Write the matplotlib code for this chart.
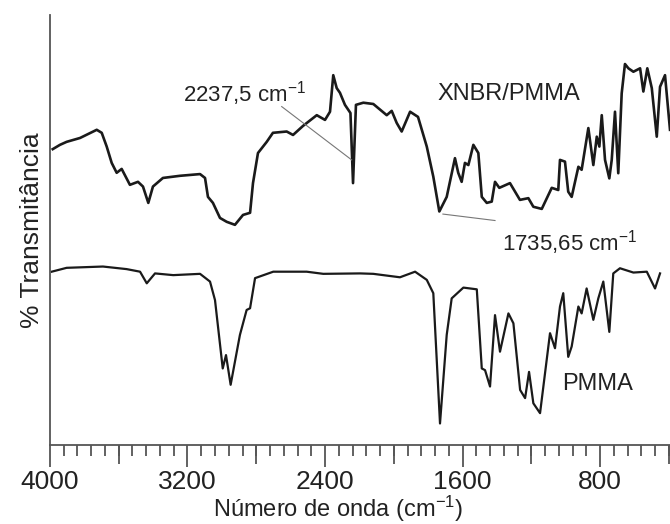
import matplotlib
matplotlib.use("Agg")
import matplotlib.pyplot as plt
from matplotlib.ticker import MultipleLocator, NullFormatter

plt.rcParams['font.family'] = ['Liberation Sans', 'DejaVu Sans']
plt.rcParams['mathtext.fontset'] = 'custom'
plt.rcParams['mathtext.rm'] = 'Liberation Sans'
plt.rcParams['mathtext.it'] = 'Liberation Sans'

# XNBR/PMMA spectrum (wavenumber cm-1, transmittance a.u.)
wn_blend = [3984, 3942, 3903, 3825, 3728, 3699, 3670, 3641, 3612, 3583,
            3535, 3488, 3459, 3428, 3401, 3343, 3244, 3127, 3098, 3081,
            3052, 3011, 2972, 2924, 2877, 2836, 2819, 2790, 2739, 2703,
            2623, 2586, 2528, 2448, 2400, 2371, 2352, 2332, 2313, 2284,
            2252, 2237, 2220, 2177, 2119, 2041, 2012, 1983, 1954, 1905,
            1859, 1808, 1770, 1735, 1692, 1644, 1625, 1605, 1586, 1566,
            1537, 1508, 1488, 1459, 1430, 1411, 1386, 1324, 1266, 1217,
            1188, 1139, 1081, 1043, 1033, 1004, 985, 965, 926, 907,
            868, 839, 819, 804, 790, 771, 746, 732, 713, 694,
            674, 655, 635, 606, 567, 548, 525, 499, 470, 451,
            422, 393]
t_blend = [68.8, 69.8, 70.5, 71.4, 73.3, 72.6, 69.4, 65.6, 63.3, 64.2,
           60.5, 61.2, 60.1, 56.3, 60.1, 62.1, 62.6, 63.0, 62.1, 57.7,
           56.3, 52.8, 51.9, 51.2, 53.5, 54.0, 60.9, 67.9, 70.5, 72.6,
           72.9, 72.1, 74.2, 76.7, 75.6, 77.5, 86.0, 83.0, 81.9, 79.1,
           77.2, 60.9, 79.1, 79.6, 79.3, 76.7, 77.7, 74.9, 72.9, 77.5,
           76.3, 69.4, 62.4, 54.3, 57.7, 66.7, 63.3, 61.2, 65.6, 65.1,
           69.8, 67.9, 57.7, 56.3, 56.6, 61.2, 59.8, 60.9, 57.0, 57.4,
           55.4, 54.9, 59.8, 59.3, 66.3, 65.9, 58.9, 57.7, 64.7, 64.0,
           73.7, 65.1, 71.7, 69.4, 76.7, 66.3, 62.0, 66.3, 77.5, 63.2,
           81.8, 88.6, 87.6, 86.8, 87.6, 82.2, 87.6, 83.0, 71.7, 83.3,
           86.0, 73.3]

# PMMA spectrum
wn_pmma = [3990, 3903, 3692, 3554, 3476, 3437, 3389, 3283, 3127, 3069,
           3040, 2995, 2976, 2949, 2895, 2856, 2836, 2807, 2701, 2507,
           2410, 2196, 2119, 1964, 1876, 1808, 1770, 1731, 1692, 1663,
           1595, 1517, 1488, 1469, 1440, 1411, 1382, 1333, 1304, 1265,
           1236, 1213, 1188, 1149, 1091, 1062, 1033, 1014, 985, 965,
           926, 907, 878, 839, 810, 781, 746, 723, 684, 606,
           528, 480, 451]
t_pmma = [40.3, 41.2, 41.5, 40.9, 40.3, 37.6, 39.9, 39.5, 39.8, 38.0,
          33.7, 17.8, 20.9, 14.0, 25.6, 31.4, 31.8, 38.8, 40.3, 40.3,
          39.8, 39.9, 39.8, 39.0, 40.3, 38.4, 35.3, 5.0, 25.6, 34.1,
          36.6, 36.2, 17.8, 17.4, 13.6, 30.2, 21.7, 30.6, 28.3, 12.8,
          10.9, 17.0, 9.7, 7.4, 26.0, 22.5, 32.2, 35.3, 20.5, 22.9,
          32.2, 30.6, 36.4, 29.1, 34.1, 38.0, 26.3, 39.9, 41.1, 40.1,
          40.3, 36.4, 39.9]

major_ticks = [4000, 3200, 2400, 1600, 800]
mid_ticks = [3600, 2800, 2000, 1200, 400]

fig = plt.figure(figsize=(6.7, 5.24), dpi=100)
ax = fig.add_axes([0.0746, 0.1508, 0.9254, 0.8206])

ax.plot(wn_blend, t_blend, color='#1a1a1a', lw=1.9)
ax.plot(wn_pmma, t_pmma, color='#1a1a1a', lw=1.6)

# leader lines for the peak labels
ax.plot([2652, 2245], [78.7, 66.3], color='#777777', lw=0.8)
ax.plot([1714, 1411], [53.7, 52.2], color='#777777', lw=0.8)

ax.text(3226, 79.8, '2237,5 cm$^{-1}$', fontsize=16, color='#222222', va='baseline')
ax.text(1748, 80.2, 'XNBR/PMMA', fontsize=17, color='#222222', va='baseline')
ax.text(1370, 45.3, '1735,65 cm$^{-1}$', fontsize=16, color='#222222', va='baseline')
ax.text(1021, 12.8, 'PMMA', fontsize=17, color='#222222', va='baseline')

ax.set_xlim(4000, 393)
ax.set_ylim(0, 100)

for s in ['top', 'right']:
    ax.spines[s].set_visible(False)
for s in ['left', 'bottom']:
    ax.spines[s].set_color('#555555')
    ax.spines[s].set_linewidth(1.3)

ax.set_yticks([])
ax.set_xticks(major_ticks)
ax.xaxis.set_minor_locator(MultipleLocator(80))
ax.tick_params(axis='x', which='major', direction='out', length=16, width=1.3,
               color='#555555', labelsize=19, pad=2, labelcolor='#222222')
ax.tick_params(axis='x', which='minor', direction='out', length=8, width=1.3,
               color='#555555')

sec = ax.secondary_xaxis('bottom')
sec.set_xticks(mid_ticks)
sec.xaxis.set_major_formatter(NullFormatter())
sec.tick_params(direction='out', length=14, width=1.3, color='#555555')
sec.spines['bottom'].set_visible(False)

fig.text(0.505, 0.0134, 'Número de onda (cm$^{-1}$)', fontsize=17, color='#222222',
         ha='center', va='baseline')
ax.set_ylabel('% Transmitância', fontsize=19, color='#222222', labelpad=4)

fig.savefig('out.png', dpi=100)
